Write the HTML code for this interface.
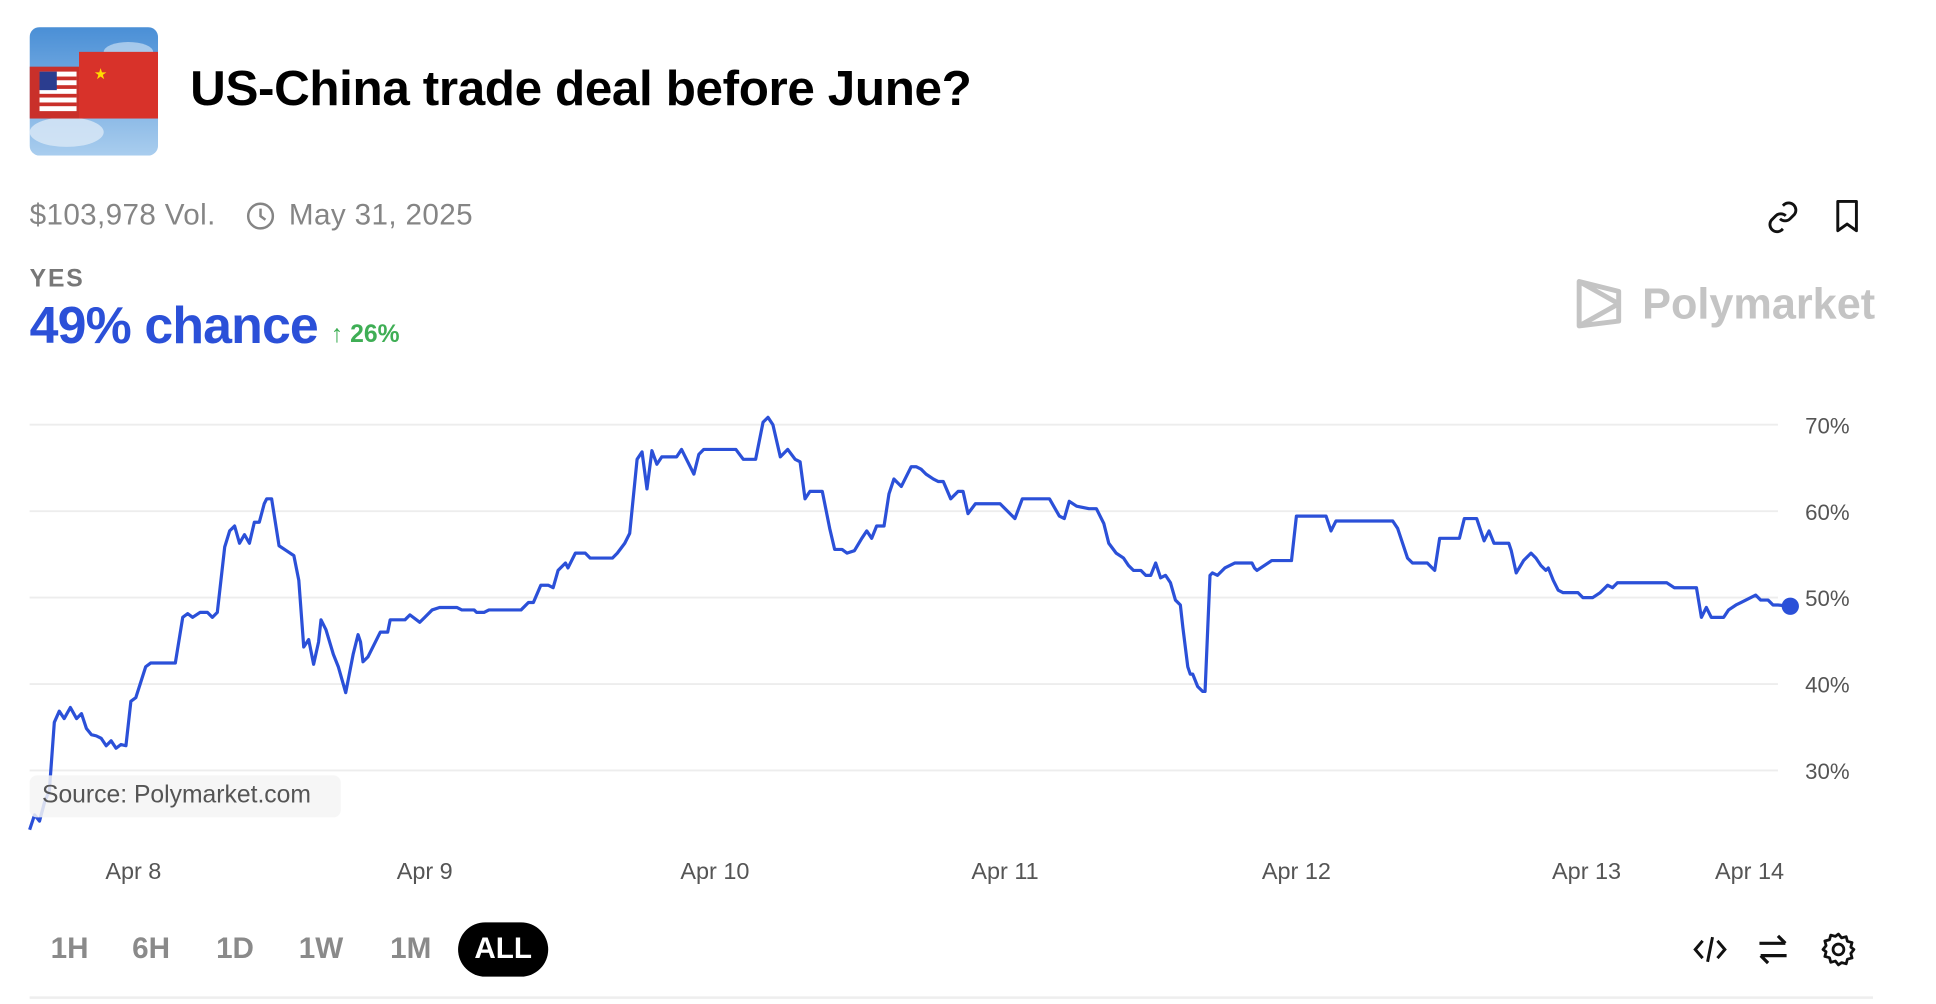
<!DOCTYPE html>
<html><head><meta charset="utf-8"><style>
html,body{margin:0;padding:0;background:#fff;overflow:hidden;width:1936px;height:1004px}
#w{position:absolute;left:0;top:0;width:1568px;height:813px;transform:scale(1.23469);transform-origin:0 0;font-family:"Liberation Sans",sans-serif}
.a{position:absolute;white-space:nowrap}
</style></head><body><div id="w">
<svg class="a" style="left:24px;top:22px" width="104" height="104" viewBox="0 0 104 104">
<defs><clipPath id="c"><rect width="104" height="104" rx="8"/></clipPath><linearGradient id="s" x1="0" y1="0" x2="0" y2="1"><stop offset="0" stop-color="#4a8fd6"/><stop offset="1" stop-color="#a9cdee"/></linearGradient></defs>
<g clip-path="url(#c)"><rect width="104" height="104" fill="url(#s)"/>
<ellipse cx="30" cy="85" rx="30" ry="12" fill="#dbe9f6" opacity=".8"/><ellipse cx="80" cy="20" rx="20" ry="8" fill="#dbe9f6" opacity=".6"/>
<rect x="0" y="32" width="40" height="42" fill="#c9302a"/><rect x="8" y="36" width="30" height="32" fill="#fff"/>
<g fill="#c9302a"><rect x="8" y="40" width="30" height="3"/><rect x="8" y="47" width="30" height="3"/><rect x="8" y="54" width="30" height="3"/><rect x="8" y="61" width="30" height="3"/></g>
<rect x="8" y="36" width="14" height="15" fill="#2b3d8f"/>
<rect x="40" y="20" width="64" height="54" fill="#d8322a"/><text x="52" y="42" font-size="12" fill="#ffdd00">★</text></g></svg>
<div class="a" style="left:154px;top:50px;font-size:40px;font-weight:bold;letter-spacing:-0.3px;color:#000">US-China trade deal before June?</div>
<div class="a" style="left:24px;top:161px;font-size:24px;color:#858585;letter-spacing:0.3px">$103,978 Vol.</div>
<svg class="a" style="left:199px;top:163px" width="24" height="24"><circle cx="12" cy="12" r="10" fill="none" stroke="#858585" stroke-width="2"/><path d="M12 6v6l4 3" fill="none" stroke="#858585" stroke-width="2"/></svg>
<div class="a" style="left:234px;top:161px;font-size:24px;color:#858585;letter-spacing:0.3px">May 31, 2025</div>
<svg class="a" style="left:1430px;top:162px" width="28" height="28" viewBox="0 0 24 24"><path d="M10 13a5 5 0 0 0 7 0l3-3a5 5 0 0 0-7-7l-1 1M14 11a5 5 0 0 0-7 0l-3 3a5 5 0 0 0 7 7l1-1" fill="none" stroke="#111" stroke-width="2"/></svg>
<svg class="a" style="left:1483px;top:161px" width="26" height="28" viewBox="0 0 24 26"><path d="M5 2h14v22l-7-5-7 5z" fill="none" stroke="#111" stroke-width="2.2" stroke-linejoin="round"/></svg>
<div class="a" style="left:24px;top:215px;font-size:20px;color:#777;letter-spacing:1.5px;font-weight:bold">YES</div>
<div class="a" style="left:24px;top:240px;font-size:42px;font-weight:bold;color:#2b50d8;letter-spacing:-0.7px">49% chance</div>
<div class="a" style="left:268px;top:260px;font-size:20px;font-weight:bold;color:#3fae55">↑ 26%</div>
<svg class="a" style="left:1275px;top:224px" width="40" height="44" viewBox="0 0 40 44"><path d="M4 4L36 12V36L4 40Z M4 4L36 22L4 40" fill="none" stroke="#c4c4c4" stroke-width="4" stroke-linejoin="round"/></svg>
<div class="a" style="left:1330px;top:227px;font-size:35px;font-weight:bold;color:#c4c4c4">Polymarket</div>
<svg class="a" style="left:0;top:0" width="1568" height="813">
<g stroke="#ededed" stroke-width="1.5"><line x1="24" x2="1440" y1="344" y2="344"/><line x1="24" x2="1440" y1="414" y2="414"/><line x1="24" x2="1440" y1="484" y2="484"/><line x1="24" x2="1440" y1="554" y2="554"/><line x1="24" x2="1440" y1="624" y2="624"/></g>
<g font-size="18" fill="#555" font-family="Liberation Sans"><text x="1462" y="351">70%</text><text x="1462" y="421">60%</text><text x="1462" y="491">50%</text><text x="1462" y="561">40%</text><text x="1462" y="631">30%</text></g>
<g font-size="19" fill="#555" font-family="Liberation Sans" text-anchor="middle"><text x="108" y="712">Apr 8</text><text x="344" y="712">Apr 9</text><text x="579" y="712">Apr 10</text><text x="814" y="712">Apr 11</text><text x="1050" y="712">Apr 12</text><text x="1285" y="712">Apr 13</text><text x="1417" y="712">Apr 14</text></g>
<polyline fill="none" stroke="#2b50d8" stroke-width="2.6" stroke-linejoin="round" points="24,672 28,660 32,665 36,650 40,640 44,585 48,576 52,582 57,573 62,582 66,578 70,590 74,595 78,596 82,598 86,604 90,600 94,606 98,603 102,604 106,568 110,565 118,540 122,537 142,537 148,500 152,497 156,500 162,496 168,496 172,500 176,496 182,443 186,430 190,426 194,440 198,433 202,440 206,423 210,423 214,408 216,404 220,404 226,442 232,446 238,450 242,470 246,524 250,518 254,538 258,520 260,502 264,510 270,530 274,540 280,561 286,530 290,514 292,520 294,536 298,532 304,520 308,512 314,512 316,502 328,502 332,498 340,504 344,500 350,494 356,492 370,492 374,494 384,494 386,496 392,496 396,494 422,494 428,488 432,488 438,474 444,474 448,476 452,462 458,456 460,460 466,448 474,448 478,452 496,452 500,448 506,440 510,432 516,372 520,366 524,396 528,365 532,376 536,370 548,370 552,364 562,384 566,368 570,364 592,364 596,364 602,372 612,372 618,342 622,338 626,344 632,370 638,364 644,372 648,374 652,404 656,398 666,398 672,428 676,445 682,445 686,448 692,446 698,436 702,430 706,436 710,426 716,426 720,400 724,388 730,394 738,378 742,378 746,380 750,384 756,388 760,390 764,390 770,404 776,398 780,398 784,416 790,408 800,408 810,408 818,416 822,420 828,404 850,404 858,418 862,420 866,406 872,410 882,412 888,412 894,424 898,440 904,448 910,452 914,458 918,462 924,462 928,466 932,466 936,456 940,468 944,466 948,472 952,486 956,490 958,508 962,540 964,546 966,546 970,556 974,560 976,560 980,466 982,464 986,466 992,460 1000,456 1014,456 1016,460 1018,462 1030,454 1038,454 1046,454 1050,418 1074,418 1078,430 1082,422 1128,422 1132,428 1140,452 1144,456 1156,456 1160,460 1162,462 1166,436 1182,436 1186,420 1196,420 1202,438 1206,430 1210,440 1222,440 1224,446 1228,464 1234,454 1240,448 1244,452 1248,458 1252,462 1254,460 1258,470 1262,478 1266,480 1278,480 1282,484 1290,484 1296,480 1300,476 1302,474 1306,476 1310,472 1350,472 1356,476 1374,476 1378,500 1382,492 1386,500 1396,500 1400,494 1406,490 1410,488 1414,486 1418,484 1422,482 1426,486 1432,486 1436,490 1440,490 1450,491"/>
<circle cx="1450" cy="491" r="7" fill="#2b50d8"/>
<line x1="24" x2="1517" y1="808" y2="808" stroke="#eee" stroke-width="2"/>
</svg>
<div class="a" style="left:24px;top:628px;width:252px;height:34px;background:rgba(244,244,244,0.85);border-radius:6px"></div>
<div class="a" style="left:34px;top:633px;font-size:20px;color:#555">Source: Polymarket.com</div>
<div class="a" style="left:41px;top:755px;font-size:24px;font-weight:bold;color:#8a8a8a">1H</div>
<div class="a" style="left:107px;top:755px;font-size:24px;font-weight:bold;color:#8a8a8a">6H</div>
<div class="a" style="left:175px;top:755px;font-size:24px;font-weight:bold;color:#8a8a8a">1D</div>
<div class="a" style="left:242px;top:755px;font-size:24px;font-weight:bold;color:#8a8a8a">1W</div>
<div class="a" style="left:316px;top:755px;font-size:24px;font-weight:bold;color:#8a8a8a">1M</div>
<div class="a" style="left:371px;top:747px;width:73px;height:44px;background:#000;border-radius:22px;color:#fff;font-size:24px;font-weight:bold;text-align:center;line-height:44px">ALL</div>
<svg class="a" style="left:1370px;top:755px" width="30" height="28" viewBox="0 0 30 28"><path d="M9 7L3 14l6 7M21 7l6 7-6 7M17 4l-4 20" fill="none" stroke="#111" stroke-width="2.4"/></svg>
<svg class="a" style="left:1422px;top:755px" width="28" height="28" viewBox="0 0 28 28"><path d="M3 9h21M18 3l6 6M25 19H4M10 25l-6-6" fill="none" stroke="#111" stroke-width="2.6"/></svg>
<svg class="a" style="left:1474px;top:754px" width="30" height="30" viewBox="0 0 24 24"><path d="M12 2l2 2.5 3-.8.8 3 3 .8-.8 3L22 12l-2 2.5.8 3-3 .8-.8 3-3-.8L12 22l-2-2.5-3 .8-.8-3-3-.8.8-3L2 12l2-2.5-.8-3 3-.8.8-3 3 .8z" fill="none" stroke="#111" stroke-width="1.8" stroke-linejoin="round"/><circle cx="12" cy="12" r="3.5" fill="none" stroke="#111" stroke-width="1.8"/></svg>
</div></body></html>
